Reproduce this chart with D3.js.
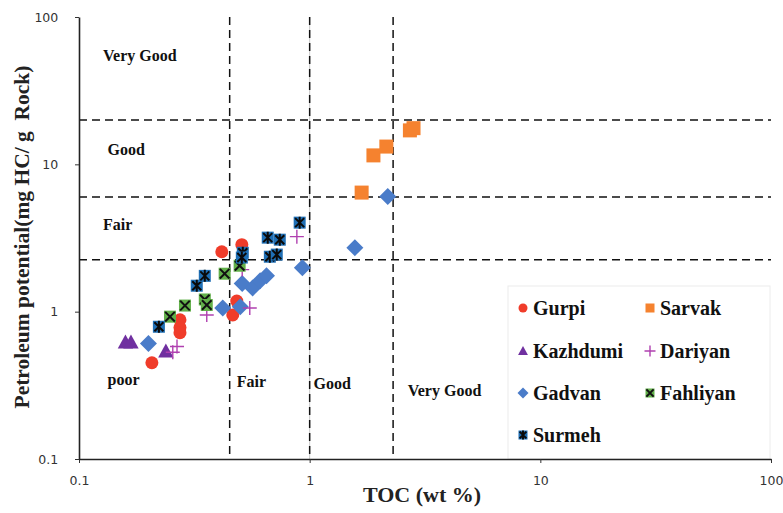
<!DOCTYPE html>
<html><head><meta charset="utf-8">
<script src="https://cdn.jsdelivr.net/npm/d3@7"></script>
<style>html,body{margin:0;padding:0;background:#fff}</style>
</head><body>
<svg id="c" width="783" height="513"></svg>
<script>
// ---- data ----
const xTicks = [0.1, 1, 10, 100];
const yTicks = [0.1, 1, 10, 100];
const tocThresholds = [0.45, 1, 2.3];
const ppThresholds = [2.25, 6, 20];

const gurpiX = [0.207, 0.274, 0.274, 0.274, 0.416, 0.508, 0.464, 0.483];
const gurpiY = [0.45, 0.88, 0.78, 0.72, 2.55, 2.85, 0.95, 1.18];
const sarvakX = [1.68, 1.89, 2.15, 2.72, 2.82];
const sarvakY = [6.43, 11.5, 13.2, 17.0, 17.6];
const kazhdumiX = [0.159, 0.168, 0.238];
const kazhdumiY = [0.62, 0.62, 0.54];
const dariyanX = [0.266, 0.255, 0.358, 0.55, 0.51, 0.88];
const dariyanY = [0.58, 0.53, 0.95, 1.06, 1.93, 3.23];
const gadvanX = [0.20, 0.42, 0.50, 0.51, 0.566, 0.61, 0.65, 0.93, 1.57, 2.18];
const gadvanY = [0.607, 1.06, 1.08, 1.55, 1.45, 1.62, 1.75, 1.99, 2.72, 6.04];
const fahliyanX = [0.248, 0.288, 0.351, 0.358, 0.428, 0.497];
const fahliyanY = [0.925, 1.10, 1.21, 1.11, 1.81, 2.05];
const surmehX = [0.222, 0.324, 0.351, 0.513, 0.508, 0.658, 0.742, 0.672, 0.72, 0.905];
const surmehY = [0.79, 1.50, 1.75, 2.51, 2.33, 3.18, 3.08, 2.36, 2.44, 4.02];

const regionLabels = ["Very Good", "Good", "Fair", "poor", "Fair", "Good", "Very Good"];
const regionLabelX = [0.127, 0.133, 0.127, 0.133, 0.483, 1.04, 2.66];
const regionLabelY = [54.7, 12.6, 3.9, 0.345, 0.335, 0.324, 0.291];

// ---- chart ----
const svg = d3.select("#c");
const x = d3.scaleLog().domain([0.1, 100]).range([79, 771]);
const y = d3.scaleLog().domain([0.1, 100]).range([459, 17]);
const serif = "'Liberation Serif','Times New Roman',serif";

// faint gridline at x=1
svg.append("line").attr("x1", x(1)).attr("x2", x(1)).attr("y1", y(100)).attr("y2", y(0.1))
  .attr("stroke", "#c8c8c8").attr("stroke-width", 1);

// legend box (faint)
svg.append("rect").attr("x", 508).attr("y", 286).attr("width", 262).attr("height", 173)
  .attr("fill", "#fff").attr("stroke", "#ececec").attr("stroke-width", 1);

// threshold dashed lines
const dash = "8,5";
tocThresholds.forEach(t => {
  svg.append("line").attr("x1", x(t)).attr("x2", x(t)).attr("y1", y(100)).attr("y2", y(0.1))
    .attr("stroke", "#111").attr("stroke-width", 1.5).attr("stroke-dasharray", dash);
});
ppThresholds.forEach(t => {
  svg.append("line").attr("x1", x(0.1)).attr("x2", x(100)).attr("y1", y(t)).attr("y2", y(t))
    .attr("stroke", "#111").attr("stroke-width", 1.5).attr("stroke-dasharray", dash);
});

// axes
const xAxis = svg.append("g").attr("transform", `translate(0,${y(0.1)})`)
  .call(d3.axisBottom(x).tickValues(xTicks).tickFormat(d => String(d)).tickSize(4).tickSizeOuter(0));
const yAxis = svg.append("g").attr("transform", `translate(${x(0.1)},0)`)
  .call(d3.axisLeft(y).tickValues(yTicks).tickFormat(d => String(d)).tickSize(4).tickSizeOuter(0));
[xAxis, yAxis].forEach(a => {
  a.select(".domain").attr("stroke", "#222").attr("stroke-width", 1.6);
  a.selectAll(".tick line").attr("stroke", "#333");
  a.selectAll("text").attr("font-family", "'DejaVu Sans',Verdana,sans-serif").attr("font-size", 12.5).attr("fill", "#333");
});
xAxis.selectAll("text").attr("dy", "1.55em");
yAxis.selectAll("text").attr("dx", "-1.1em");

// axis titles
svg.append("text").attr("x", 422).attr("y", 502).attr("text-anchor", "middle")
  .attr("font-family", serif).attr("font-weight", "bold").attr("font-size", 22).attr("fill", "#222")
  .text("TOC (wt %)");
svg.append("text").attr("transform", "translate(29,237) rotate(-90)").attr("text-anchor", "middle")
  .attr("font-family", serif).attr("font-weight", "bold").attr("font-size", 21.5).attr("fill", "#222")
  .attr("xml:space", "preserve")
  .text("Petroleum potential(mg HC/ g  Rock)");

// region labels
regionLabels.forEach((t, i) => {
  svg.append("text").attr("x", x(regionLabelX[i])).attr("y", y(regionLabelY[i]))
    .attr("font-family", serif).attr("font-weight", "bold").attr("font-size", 16).attr("fill", "#111")
    .attr("dominant-baseline", "central").text(t);
});

// marker drawers
function drawMarker(g, type, s) {
  if (type === "circle") {
    g.append("circle").attr("r", s / 2).attr("fill", "#f03c2a");
  } else if (type === "square") {
    g.append("rect").attr("x", -s / 2).attr("y", -s / 2).attr("width", s).attr("height", s).attr("fill", "#f5822f");
  } else if (type === "triangle") {
    g.append("path").attr("d", `M0,${-s * 0.55}L${s * 0.55},${s * 0.45}L${-s * 0.55},${s * 0.45}Z`).attr("fill", "#7030a0");
  } else if (type === "plus") {
    const h = s / 2;
    g.append("path").attr("d", `M${-h},0H${h}M0,${-h}V${h}`).attr("stroke", "#b040b0").attr("stroke-width", 1.4).attr("fill", "none");
  } else if (type === "diamond") {
    const h = s / 2;
    g.append("path").attr("d", `M0,${-h}L${h},0L0,${h}L${-h},0Z`).attr("fill", "#4a7cc9");
  } else if (type === "xsq") {
    const h = s / 2;
    g.append("rect").attr("x", -h).attr("y", -h).attr("width", s).attr("height", s).attr("fill", "#62b04a");
    const k = h * 0.8;
    g.append("path").attr("d", `M${-k},${-k}L${k},${k}M${k},${-k}L${-k},${k}`).attr("stroke", "#111").attr("stroke-width", 2);
  } else if (type === "star") {
    const h = s / 2;
    g.append("rect").attr("x", -h).attr("y", -h).attr("width", s).attr("height", s).attr("fill", "#1f6fb5");
    const k = h * 0.75;
    g.append("path").attr("d", `M${-k},${-k}L${k},${k}M${k},${-k}L${-k},${k}M0,${-h}V${h}`).attr("stroke", "#0a0a0a").attr("stroke-width", 2);
  }
}

const series = [
  {name: "Gurpi", xs: gurpiX, ys: gurpiY, type: "circle", size: 13},
  {name: "Sarvak", xs: sarvakX, ys: sarvakY, type: "square", size: 14},
  {name: "Kazhdumi", xs: kazhdumiX, ys: kazhdumiY, type: "triangle", size: 14},
  {name: "Dariyan", xs: dariyanX, ys: dariyanY, type: "plus", size: 14},
  {name: "Gadvan", xs: gadvanX, ys: gadvanY, type: "diamond", size: 17},
  {name: "Fahliyan", xs: fahliyanX, ys: fahliyanY, type: "xsq", size: 12},
  {name: "Surmeh", xs: surmehX, ys: surmehY, type: "star", size: 12}
];
const drawOrder = ["Gurpi", "Sarvak", "Kazhdumi", "Gadvan", "Dariyan", "Fahliyan", "Surmeh"];
drawOrder.forEach(n => {
  const s = series.find(d => d.name === n);
  s.xs.forEach((xv, i) => {
    const g = svg.append("g").attr("transform", `translate(${x(xv)},${y(s.ys[i])})`);
    drawMarker(g, s.type, s.size);
  });
});

// legend
const legCols = [523, 650];
const legRows = [308, 351, 393, 435];
series.forEach((s, i) => {
  const cx = legCols[i % 2], cy = legRows[Math.floor(i / 2)];
  const g = svg.append("g").attr("transform", `translate(${cx},${cy})`);
  drawMarker(g, s.type, s.type === "diamond" ? 11 : (s.type === "plus" ? 11 : 9));
  svg.append("text").attr("x", cx + 10).attr("y", cy).attr("dominant-baseline", "central")
    .attr("font-family", serif).attr("font-weight", "bold").attr("font-size", 20).attr("fill", "#111")
    .text(s.name);
});
</script>
</body></html>
